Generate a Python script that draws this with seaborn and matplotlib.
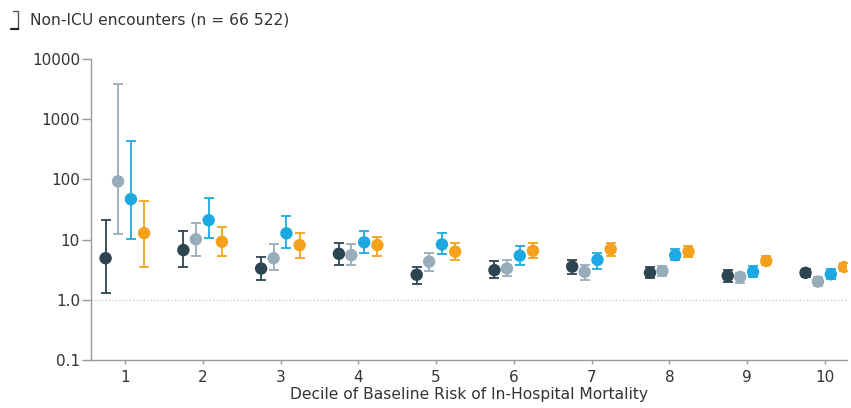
import numpy as np
import pandas as pd
import matplotlib
matplotlib.use("Agg")
import matplotlib.pyplot as plt
import seaborn as sns
from matplotlib.lines import Line2D

# Odds ratios (point estimate, lower and upper 95% CI) by decile of baseline risk
deciles = [1, 2, 3, 4, 5, 6, 7, 8, 9, 10]
series_names = ["Model A", "Model B", "Model C", "Model D"]

a_est = [4.9, 6.7, 3.3, 5.8, 2.6, 3.1, 3.55, 2.8, 2.5, 2.8]
a_lo = [1.3, 3.5, 2.1, 3.8, 1.84, 2.3, 2.7, 2.3, 2.0, 2.4]
a_hi = [21, 14, 5.2, 8.9, 3.55, 4.4, 4.6, 3.5, 3.1, 3.3]

b_est = [93, 10.1, 4.9, 5.5, 4.3, 3.3, 2.9, 3.0, 2.4, 2.0]
b_lo = [12.3, 5.3, 3.1, 3.8, 3.05, 2.5, 2.1, 2.5, 1.9, 1.7]
b_hi = [3900, 18.7, 8.4, 8.3, 6.0, 4.6, 3.8, 3.65, 2.8, 2.4]

c_est = [47, 21, 12.7, 9.0, 8.3, 5.4, 4.6, 5.5, 2.9, 2.65]
c_lo = [10.2, 10.7, 7.3, 6.0, 5.8, 3.8, 3.25, 4.5, 2.4, 2.2]
c_hi = [440, 50, 24.5, 14, 12.7, 7.8, 6.0, 7.1, 3.65, 3.2]

d_est = [12.8, 9.2, 8.1, 8.1, 6.3, 6.5, 6.9, 6.3, 4.4, 3.5]
d_lo = [3.55, 5.3, 5.0, 5.4, 4.6, 4.9, 5.3, 5.1, 3.8, 3.0]
d_hi = [44, 16.3, 12.7, 11.2, 8.7, 8.9, 8.9, 7.8, 5.3, 4.1]

y_ticks = [0.1, 1, 10, 100, 1000, 10000]
y_tick_labels = ["0.1", "1.0", "10", "100", "1000", "10000"]

colors = ["#2c4550", "#98adba", "#1ca9e1", "#f4a21e"]
offsets = [-0.25, -0.09, 0.075, 0.245]

sns.set_style("ticks")
plt.rcParams["font.family"] = ["DejaVu Sans"]

fig = plt.figure(figsize=(8.51, 4.08), dpi=100)
ax = fig.add_axes([0.107, 0.118, 0.888, 0.737])

estimates = [a_est, b_est, c_est, d_est]
lows = [a_lo, b_lo, c_lo, d_lo]
highs = [a_hi, b_hi, c_hi, d_hi]

rows = []
for name, off, est, lo, hi in zip(series_names, offsets, estimates, lows, highs):
    for d, e, l, h in zip(deciles, est, lo, hi):
        rows.append({"series": name, "x": d + off, "est": e, "lo": l, "hi": h})
df = pd.DataFrame(rows)

# reference line at OR = 1
ax.axhline(1.0, color="#cccccc", lw=1.0, ls=(0, (1, 1.5)), zorder=0)

for name, col in zip(series_names, colors):
    sub = df[df["series"] == name]
    ax.errorbar(sub["x"], sub["est"],
                yerr=[sub["est"] - sub["lo"], sub["hi"] - sub["est"]],
                fmt="none", ecolor=col, elinewidth=1.3, capsize=3.8,
                capthick=1.3, zorder=2)

sns.scatterplot(data=df, x="x", y="est", hue="series", palette=colors,
                s=80, edgecolor="none", legend=False, ax=ax, zorder=3)

ax.set_yscale("log")
ax.set_ylim(0.1, 10000)
ax.set_yticks(y_ticks)
ax.set_yticklabels(y_tick_labels)
ax.minorticks_off()
ax.set_xlim(0.563, 10.28)
ax.set_xticks(deciles)
ax.set_xticklabels([str(d) for d in deciles])

for side in ["top", "right"]:
    ax.spines[side].set_visible(False)
for side in ["left", "bottom"]:
    ax.spines[side].set_color("#9a9a9a")
    ax.spines[side].set_linewidth(1.0)
ax.tick_params(axis="y", colors="#9a9a9a", length=6.5, width=1.0, pad=1.5,
               labelcolor="#333333", labelsize=11)
ax.tick_params(axis="x", colors="#9a9a9a", length=3, width=1.0, pad=4,
               labelcolor="#333333", labelsize=11)

ax.set_xlabel("Decile of Baseline Risk of In-Hospital Mortality",
              fontsize=11.2, color="#333333", labelpad=2)
ax.set_ylabel("")

# panel heading with bracket marker
fig.add_artist(Line2D([0.021, 0.021], [0.930, 0.972], color="#555555", lw=1.0))
fig.add_artist(Line2D([0.015, 0.021], [0.972, 0.972], color="#555555", lw=1.0))
fig.add_artist(Line2D([0.013, 0.021], [0.928, 0.928], color="#222222", lw=1.6))
fig.text(0.035, 0.950, "Non-ICU encounters (n = 66 522)", fontsize=11.2,
         color="#333333", va="center", ha="left")

fig.savefig("out.png", dpi=100, facecolor="white")
